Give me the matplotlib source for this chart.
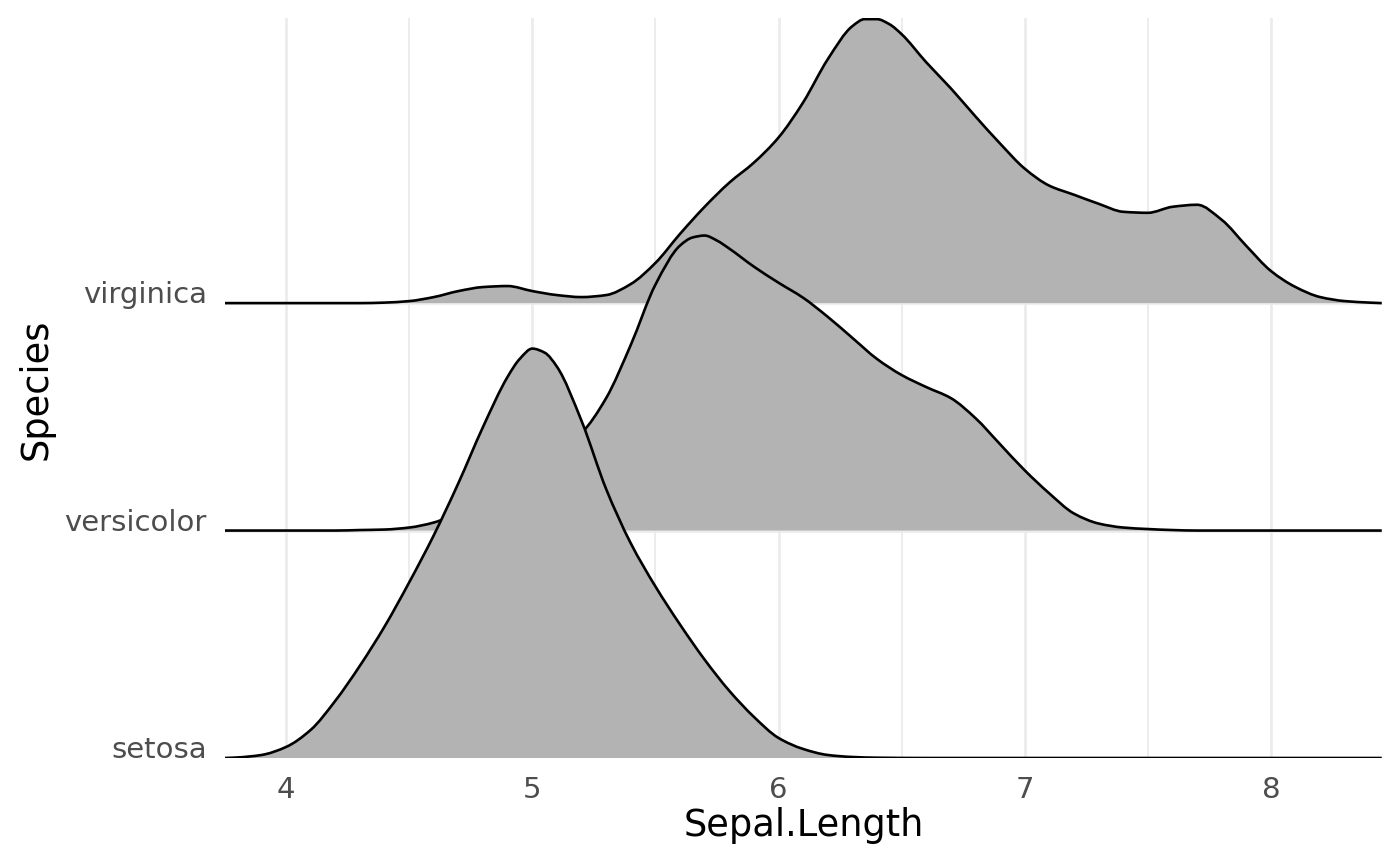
import numpy as np
import matplotlib
matplotlib.use('Agg')
import matplotlib.pyplot as plt
from matplotlib.path import Path
from matplotlib.patches import PathPatch

# ---------------------------------------------------------------
# data (relative density heights)
# ---------------------------------------------------------------
species = ['setosa', 'versicolor', 'virginica']

setosa_x = [3.75, 3.8, 3.9, 4.0, 4.1, 4.2, 4.3, 4.4, 4.5, 4.6, 4.7, 4.8, 4.9, 4.95,
            5.0, 5.05, 5.1, 5.2, 5.3, 5.4, 5.5, 5.6, 5.7, 5.8, 5.9, 6.0, 6.1, 6.2,
            6.3, 6.4, 6.6, 8.45]
setosa_d = [0, 0.5, 3, 11, 28, 57, 92, 131, 175, 222, 274, 330, 380, 398,
            408, 404, 390, 336, 268, 214, 171, 133, 98, 67, 41, 20, 9, 3,
            1, 0.3, 0, 0]

versicolor_x = [3.75, 4.2, 4.3, 4.4, 4.5, 4.6, 4.7, 4.8, 4.9, 5.0, 5.1, 5.2, 5.3, 5.4,
                5.5, 5.6, 5.65, 5.7, 5.75, 5.8, 5.9, 6.0, 6.1, 6.2, 6.3, 6.4, 6.5,
                6.6, 6.7, 6.8, 6.9, 7.0, 7.1, 7.2, 7.3, 7.4, 7.5, 7.6, 7.7, 8.45]
versicolor_d = [0, 0, 0.5, 1, 3, 8, 18, 31, 46, 61, 77, 97, 132, 185,
                245, 284, 292, 294, 289, 281, 263, 247, 232, 213, 192, 171, 155,
                143, 132, 112, 86, 60, 37, 17, 7, 3, 1.5, 0.5, 0, 0]

virginica_x = [3.75, 4.3, 4.4, 4.5, 4.6, 4.7, 4.8, 4.9, 5.0, 5.1, 5.2, 5.3, 5.4, 5.5,
               5.6, 5.7, 5.8, 5.9, 6.0, 6.1, 6.2, 6.3, 6.35, 6.4, 6.45, 6.5, 6.6,
               6.7, 6.8, 6.9, 7.0, 7.1, 7.2, 7.3, 7.4, 7.5, 7.6, 7.7, 7.8, 7.9,
               8.0, 8.1, 8.2, 8.3, 8.4, 8.45]
virginica_d = [0, 0, 0.5, 2, 6, 12, 16, 17, 12, 8, 6, 8, 19, 40,
               69, 96, 120, 140, 165, 200, 243, 276, 283, 283, 278, 268, 240,
               214, 186, 159, 134, 117, 108, 99, 91, 90, 96, 98, 83, 57,
               32, 16, 6, 2, 0.5, 0]

ridges = {
    'setosa': (setosa_x, setosa_d),
    'versicolor': (versicolor_x, versicolor_d),
    'virginica': (virginica_x, virginica_d),
}

SCALE = 1.8   # tallest ridge = 1.8 x spacing (ggridges style)
FILL = '#B3B3B3'
GRID = '#EBEBEB'


def smooth_path_verts(x, y):
    # monotone (Fritsch-Carlson) tangents -> cubic bezier segments through the points
    x = np.asarray(x, float); y = np.asarray(y, float)
    h = np.diff(x); s = np.diff(y) / h
    m = np.zeros_like(y)
    m[0] = s[0]; m[-1] = s[-1]
    for k in range(1, len(x) - 1):
        if s[k-1] * s[k] <= 0:
            m[k] = 0
        else:
            w1 = 2*h[k] + h[k-1]; w2 = h[k] + 2*h[k-1]
            m[k] = (w1 + w2) / (w1/s[k-1] + w2/s[k])
    verts = [(x[0], y[0])]; codes = [Path.MOVETO]
    for k in range(len(x) - 1):
        verts += [(x[k] + h[k]/3, y[k] + m[k]*h[k]/3),
                  (x[k+1] - h[k]/3, y[k+1] - m[k+1]*h[k]/3),
                  (x[k+1], y[k+1])]
        codes += [Path.CURVE4]*3
    return verts, codes


# ---------------------------------------------------------------
# figure
# ---------------------------------------------------------------
plt.rcParams['font.family'] = 'DejaVu Sans'
fig = plt.figure(figsize=(14, 8.65), dpi=100)
ax = fig.add_axes([225/1400, 1-758/865, (1382-225)/1400, (758-18)/865])

dmax = max(max(d) for _, d in ridges.values())

# draw top ridge first so the lower ones sit in front
top = 0
for i, name in reversed(list(enumerate(species))):
    xs, ds = ridges[name]
    base = i + 1
    h = np.array(ds) / dmax * SCALE
    z = 2 + (len(species) - i)
    verts, codes = smooth_path_verts(xs, base + h)
    fverts = verts + [(xs[-1], base), (xs[0], base), (xs[0], base)]
    fcodes = codes + [Path.LINETO, Path.LINETO, Path.CLOSEPOLY]
    ax.add_patch(PathPatch(Path(fverts, fcodes), facecolor=FILL, edgecolor='none',
                           lw=0, zorder=z))
    ax.add_patch(PathPatch(Path(verts, codes), facecolor='none', edgecolor='black',
                           lw=1.9, zorder=z + 0.5, capstyle='butt'))
    top = max(top, base + h.max())

ax.set_xlim(3.752, 8.451)
ax.set_ylim(1, top + 0.005)

# grid
for v in [4, 5, 6, 7, 8]:
    ax.axvline(v, color=GRID, lw=1.9, zorder=0)
for v in [4.5, 5.5, 6.5, 7.5]:
    ax.axvline(v, color=GRID, lw=1.3, zorder=0)
for b in [1, 2, 3]:
    ax.axhline(b, color=GRID, lw=1.9, zorder=0)

for s in ax.spines.values():
    s.set_visible(False)

ax.set_xticks([4, 5, 6, 7, 8])
ax.set_xticklabels(['4', '5', '6', '7', '8'])
ax.set_yticks([1, 2, 3])
ax.set_yticklabels(species)
ax.tick_params(axis='both', length=0, labelsize=21, labelcolor='#4D4D4D')
ax.tick_params(axis='x', pad=13)
ax.tick_params(axis='y', pad=13)
for t in ax.get_yticklabels():
    t.set_va('baseline')

fig.text(803.5/1400, 1-826/865, 'Sepal.Length', ha='center', va='center',
         fontsize=26.5, color='black')
fig.text(36/1400, 1-389/865, 'Species', ha='center', va='center',
         rotation=90, fontsize=26.5, color='black')

fig.savefig('out.png', dpi=100)
